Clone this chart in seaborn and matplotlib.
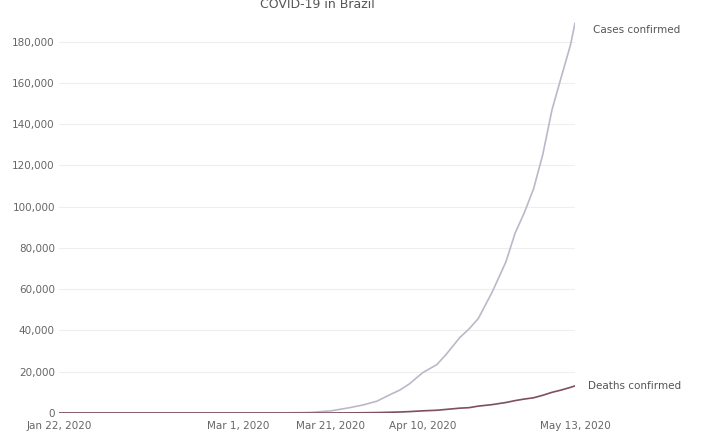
import numpy as np
import pandas as pd
import matplotlib
matplotlib.use('Agg')
import matplotlib.pyplot as plt
import seaborn as sns

# cumulative counts
dates = ['2020-01-22', '2020-02-25', '2020-02-26', '2020-03-01', '2020-03-05',
         '2020-03-10', '2020-03-13', '2020-03-15', '2020-03-17', '2020-03-20',
         '2020-03-21', '2020-03-25', '2020-03-28', '2020-03-31', '2020-04-03',
         '2020-04-05', '2020-04-07', '2020-04-10', '2020-04-13', '2020-04-15',
         '2020-04-18', '2020-04-20', '2020-04-22', '2020-04-25', '2020-04-28',
         '2020-04-30', '2020-05-02', '2020-05-04', '2020-05-06', '2020-05-08',
         '2020-05-10', '2020-05-12', '2020-05-13']
confirmed = [0, 0, 1, 2, 8, 31, 151, 200, 321, 904, 1021, 2554, 3904, 5717,
             9056, 11130, 14034, 19638, 23430, 28320, 36599, 40743, 45757,
             58509, 73235, 87187, 97100, 108620, 125218, 146894, 162699,
             178214, 188974]
deaths = [0, 0, 0, 0, 0, 0, 0, 0, 1, 11, 15, 59, 114, 201, 359, 486, 667,
          1057, 1328, 1736, 2347, 2587, 3331, 4057, 5083, 6006, 6761, 7367,
          8588, 10017, 11123, 12404, 13149]
series_names = ['Cases confirmed', 'Deaths confirmed']
tick_dates = ['2020-01-22', '2020-03-01', '2020-03-21', '2020-04-10', '2020-05-13']
title = 'COVID-19 in Brazil'

df = pd.DataFrame({'date': pd.to_datetime(dates),
                   series_names[0]: confirmed,
                   series_names[1]: deaths})
long_df = df.melt(id_vars='date', var_name='series', value_name='count')

sns.set_theme(style='white')
colors = {series_names[0]: '#bdb7c9', series_names[1]: '#7d4f5f'}

fig = plt.figure(figsize=(7.02, 4.34), dpi=100)
ax = fig.add_axes([59/702, 1 - 413/434, (575 - 59)/702, (413 - 21)/434])

sns.lineplot(data=long_df, x='date', y='count', hue='series', palette=colors,
             linewidth=1.2, legend=False, ax=ax)

ax.set_ylim(0, 190000)
ax.set_xlim(df['date'].iloc[0], df['date'].iloc[-1])
ax.set_yticks(np.arange(0, 180001, 20000))
ax.yaxis.set_major_formatter(matplotlib.ticker.FuncFormatter(lambda v, p: f'{int(v):,}'))
ticks = pd.to_datetime(tick_dates)
ax.set_xticks(ticks)
ax.set_xticklabels([d.strftime('%b %-d, %Y') for d in ticks])
ax.grid(axis='y', color='#eeeeee', linewidth=0.8)
ax.set_axisbelow(True)
for s in ax.spines.values():
    s.set_visible(False)
ax.tick_params(axis='both', labelsize=7.5, colors='#666666', length=0)
ax.tick_params(axis='y', pad=3)
ax.tick_params(axis='x', pad=6)
ax.set_xlabel('')
ax.set_ylabel('')

# end labels
last = df.iloc[-1]
ax.annotate(series_names[0], (last['date'], last[series_names[0]]),
            xytext=(18, -7), textcoords='offset pixels', va='center',
            fontsize=7.5, color='#555555', annotation_clip=False)
ax.annotate(series_names[1], (last['date'], last[series_names[1]]),
            xytext=(13, 0), textcoords='offset pixels', va='center',
            fontsize=7.5, color='#555555', annotation_clip=False)

fig.text(317/702, 1 - 5/434, title, ha='center', va='center', fontsize=9,
         color='#555555')

fig.savefig('out.png', dpi=100)
